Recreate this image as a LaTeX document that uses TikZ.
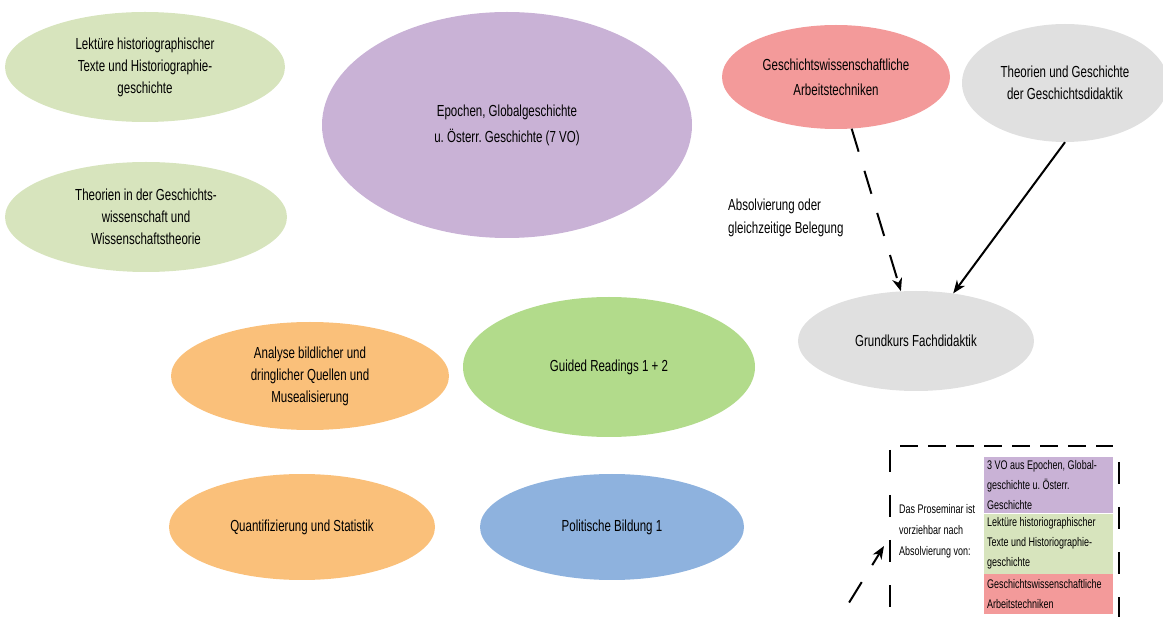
\documentclass[tikz,border=0pt]{standalone}
\usepackage{fontspec}
\setmainfont{Liberation Sans}[FakeStretch=0.72]
\usepackage{xcolor}
\usepackage{tikz}
\usetikzlibrary{shapes.geometric,arrows.meta,positioning}
\frenchspacing

\definecolor{hellgruen}{RGB}{215,228,189}
\definecolor{lila}{RGB}{201,178,214}
\definecolor{rosa}{RGB}{243,154,154}
\definecolor{hellgrau}{RGB}{224,224,224}
\definecolor{kursorange}{RGB}{250,192,122}
\definecolor{kursgruen}{RGB}{178,219,139}
\definecolor{kursblau}{RGB}{142,178,222}

\tikzset{
  kurs/.style={ellipse, inner sep=0pt, align=center, font=\fontsize{16}{22}\selectfont},
  pfeil/.style={line width=2pt, -{Stealth[length=13pt,width=10pt,inset=4pt]}},
  strich/.style={dash pattern=on 24pt off 20pt},
  legende/.style={rectangle, inner xsep=3pt, inner ysep=0pt, text width=123pt,
    align=flush left, font=\fontsize{12.5}{20}\selectfont, anchor=north west},
}

\begin{document}
\begin{tikzpicture}[x=1pt,y=-1pt]
    \useasboundingbox (0,0) rectangle (1163,617);
    \clip (0,0) rectangle (1163,617);

    % linke spalte
    \node[kurs, fill=hellgruen, minimum width=280pt, minimum height=110pt] (lekt) at (145,67)
      {Lektüre historiographischer\\Texte und Historiographie-\\geschichte};
    \node[kurs, fill=hellgruen, minimum width=282pt, minimum height=110pt] (theowiss) at (146,217)
      {Theorien in der Geschichts-\\wissenschaft und\\Wissenschaftstheorie};
    \node[kurs, fill=lila, minimum width=370pt, minimum height=226pt] (epoch) at (507,125)
      {Epochen, Globalgeschichte\\[4pt]u. Österr. Geschichte (7 VO)};

    % fachdidaktik
    \node[kurs, fill=rosa, minimum width=228pt, minimum height=104pt] (arbeit) at (836,77)
      {Geschichtswissenschaftliche\\[3pt]Arbeitstechniken};
    \node[kurs, fill=hellgrau, minimum width=206pt, minimum height=118pt] (didak) at (1065,83)
      {Theorien und Geschichte\\der Geschichtsdidaktik};
    \node[kurs, fill=hellgrau, minimum width=236pt, minimum height=100pt] (grund) at (916,341)
      {Grundkurs Fachdidaktik};
    \node[anchor=west, align=left, inner sep=0pt, font=\fontsize{16}{23}\selectfont] (belegung) at (728,218)
      {Absolvierung oder\\gleichzeitige Belegung};

    % untere kurse
    \node[kurs, fill=kursorange, minimum width=278pt, minimum height=108pt] (analyse) at (310,376)
      {Analyse bildlicher und\\dringlicher Quellen und\\Musealisierung};
    \node[kurs, fill=kursgruen, minimum width=292pt, minimum height=140pt] (guided) at (609,367)
      {Guided Readings 1 + 2};
    \node[kurs, fill=kursorange, minimum width=266pt, minimum height=106pt] (quant) at (302,527)
      {Quantifizierung und Statistik};
    \node[kurs, fill=kursblau, minimum width=264pt, minimum height=106pt] (polit) at (612,527)
      {Politische Bildung 1};

    % pfeile
    \draw[pfeil, strich] (arbeit) -- (grund);
    \draw[pfeil] (didak.south) -- (grund.52);

    % legende
    \draw[line width=2.5pt, dash pattern=on 18pt off 10pt] (900,446) -- (1113,446);
    \draw[line width=2pt, dash pattern=on 22pt off 23pt] (890,450) -- (890,640);
    \draw[line width=2pt, dash pattern=on 22pt off 23pt] (1119,462) -- (1119,640);

    \node[legende, fill=lila, minimum height=56pt] (vo) at (984,457)
      {3 VO aus Epochen, Global-\\geschichte u. Österr.\\Geschichte};
    \node[legende, fill=hellgruen, minimum height=60pt, below=0pt of vo] (lektbox)
      {Lektüre historiographischer\\Texte und Historiographie-\\geschichte};
    \node[legende, fill=rosa, minimum height=40pt, below=0pt of lektbox] (arbeitbox)
      {Geschichtswissenschaftliche\\Arbeitstechniken};
    \node[anchor=west, align=left, inner sep=0pt, font=\fontsize{12.5}{21}\selectfont] (prosem) at (899,531)
      {Das Proseminar ist\\vorziehbar nach\\Absolvierung von:};

    \coordinate (pstart) at (826,640);
    \coordinate (pziel) at (884,546);
    \draw[pfeil, strich] (pstart) -- (pziel);
\end{tikzpicture}
\end{document}
